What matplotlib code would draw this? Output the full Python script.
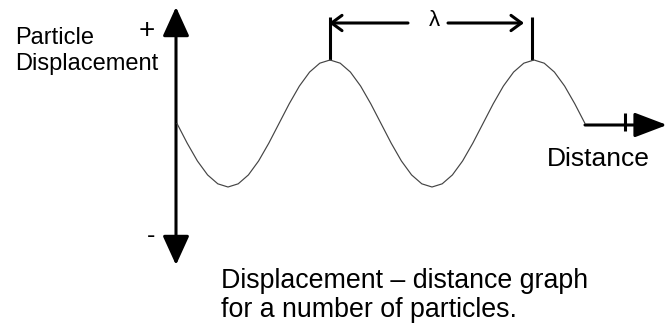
import matplotlib
matplotlib.use("Agg")
import matplotlib.pyplot as plt
import numpy as np

# ---- data (distance in wavelengths, displacement in amplitudes) ----
distance = [0.00, 0.05, 0.10, 0.15, 0.20, 0.25, 0.30, 0.35, 0.40, 0.45,
            0.50, 0.55, 0.60, 0.65, 0.70, 0.75, 0.80, 0.85, 0.90, 0.95,
            1.00, 1.05, 1.10, 1.15, 1.20, 1.25, 1.30, 1.35, 1.40, 1.45,
            1.50, 1.55, 1.60, 1.65, 1.70, 1.75, 1.80, 1.85, 1.90, 1.95, 2.00]
displacement = [0.00, -0.31, -0.59, -0.81, -0.95, -1.00, -0.95, -0.81, -0.59, -0.31,
                0.00, 0.31, 0.59, 0.81, 0.95, 1.00, 0.95, 0.81, 0.59, 0.31,
                0.00, -0.31, -0.59, -0.81, -0.95, -1.00, -0.95, -0.81, -0.59, -0.31,
                0.00, 0.31, 0.59, 0.81, 0.95, 1.00, 0.95, 0.81, 0.59, 0.31, 0.00]

y_label = ["Particle", "Displacement"]
x_label = "Distance"
wavelength_symbol = "\u03bb"
caption = ["Displacement \u2013 distance graph", "for a number of particles."]

W, H = 672, 329
fig = plt.figure(figsize=(W / 100, H / 100), dpi=100)
FONT = "Liberation Sans"

# pixel overlay axes for decorations
axp = fig.add_axes([0, 0, 1, 1])
axp.set_xlim(0, W)
axp.set_ylim(H, 0)
axp.axis("off")

# data axes (wave)
ORIGIN_X, LAMBDA_PX = 177.0, 204.0
MID_Y, AMP_PX = 123.5, 63.5
axd = fig.add_axes([0, 0, 1, 1])
axd.patch.set_alpha(0)
axd.set_xlim(-ORIGIN_X / LAMBDA_PX, (W - ORIGIN_X) / LAMBDA_PX)
axd.set_ylim((MID_Y - H) / AMP_PX, MID_Y / AMP_PX)
axd.axis("off")
axd.plot(distance, displacement, color="#444444", lw=0.85, solid_joinstyle="round")

LW = 2.2
# vertical displacement axis with two filled heads
axp.annotate("", xy=(176, 7), xytext=(176, 265),
             arrowprops=dict(arrowstyle="<|-|>,head_length=18,head_width=8.2",
                             lw=LW, color="black", shrinkA=0, shrinkB=0,
                             mutation_scale=1))
# horizontal distance axis
axp.annotate("", xy=(667, 125), xytext=(585, 125),
             arrowprops=dict(arrowstyle="-|>,head_length=20,head_width=7.6",
                             lw=LW, color="black", shrinkA=0, shrinkB=0,
                             mutation_scale=1))
axp.plot([625, 625], [113, 131], color="black", lw=LW, solid_capstyle="butt")

# wavelength marker
for xt in (330, 532):
    axp.plot([xt, xt], [17, 60], color="black", lw=LW, solid_capstyle="butt")
axp.annotate("", xy=(329, 23), xytext=(408, 23),
             arrowprops=dict(arrowstyle="->,head_length=7.5,head_width=5.5",
                             lw=LW, color="black", shrinkA=0, shrinkB=0,
                             mutation_scale=1))
axp.annotate("", xy=(524, 23), xytext=(448, 23),
             arrowprops=dict(arrowstyle="->,head_length=7.5,head_width=5.5",
                             lw=LW, color="black", shrinkA=0, shrinkB=0,
                             mutation_scale=1))
axp.text(434, 20, wavelength_symbol, ha="center", va="center", fontsize=16,
         family=FONT)

# labels
axp.text(15, 44, y_label[0], ha="left", va="baseline", fontsize=17, family=FONT)
axp.text(15, 70, y_label[1], ha="left", va="baseline", fontsize=17, family=FONT)
axp.text(147, 31, "+", ha="center", va="center", fontsize=20, family=FONT)
axp.text(151, 236, "-", ha="center", va="center", fontsize=18, family=FONT)
axp.text(547, 166, x_label, ha="left", va="baseline", fontsize=19, family=FONT)
axp.text(221, 288, caption[0], ha="left", va="baseline", fontsize=19.3, family=FONT)
axp.text(221, 317, caption[1], ha="left", va="baseline", fontsize=19.3, family=FONT)

fig.savefig("out.png", dpi=100, facecolor="white")
